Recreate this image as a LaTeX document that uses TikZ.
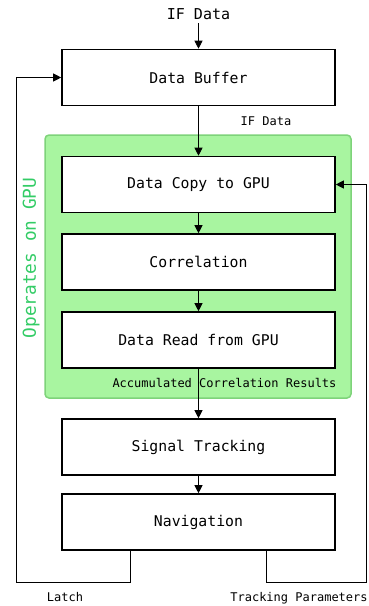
\documentclass[tikz,border=0pt]{standalone}
\usepackage{fontspec}
\setmonofont{DejaVu Sans Mono}
\usetikzlibrary{arrows.meta}

\definecolor{gpufill}{RGB}{168,245,160}
\definecolor{gpuline}{RGB}{126,211,122}
\definecolor{gputext}{RGB}{51,204,102}

\tikzset{
    stage/.style = {draw, line width = 1.6pt, fill = white,
        minimum width = 273pt, minimum height = 56pt,
        font = \ttfamily\fontsize{14.8}{17}\selectfont},
    small/.style = {font = \ttfamily\fontsize{12}{14}\selectfont},
    flow/.style = {-{Triangle[length = 8pt, width = 8pt]}, line width = 0.8pt},
    wire/.style = {line width = 0.8pt}
}

\begin{document}
\begin{tikzpicture}[x = 1pt, y = -1pt]
        \useasboundingbox (0,0) rectangle (368,606);

        % area computed on the GPU
        \draw [fill = gpufill, draw = gpuline, line width = 1.5pt, rounded corners = 4pt]
        (45,135) rectangle (351,398);
        \node [rotate = 90, text = gputext, font = \ttfamily\fontsize{17.8}{20}\selectfont]
        (gpu) at (31,258) {Operates on GPU};

        \node [font = \ttfamily\fontsize{15}{17}\selectfont] (ifin) at (198.5,14) {IF Data};

        \node [stage] (buf)   at (198.5,77.5) {Data Buffer};
        \node [stage] (copy)  at (198.5,184.5) {Data Copy to GPU};
        \node [stage] (corr)  at (198.5,262) {Correlation};
        \node [stage] (read)  at (198.5,340) {Data Read from GPU};
        \node [stage] (track) at (198.5,447) {Signal Tracking};
        \node [stage] (nav)   at (198.5,522) {Navigation};

        \node [small] (ifdata) at (266,121) {IF Data};
        \node [small, anchor = east] (acc) at (340,383) {Accumulated Correlation Results};
        \node [small] (latch) at (65,597) {Latch};
        \node [small] (param) at (299,598) {Tracking Parameters};

        \draw [flow] (ifin) -- (buf);
        \draw [flow] (buf) -- (copy);
        \draw [flow] (copy) -- (corr);
        \draw [flow] (corr) -- (read);
        \draw [flow] (read) -- (track);
        \draw [flow] (track) -- (nav);

        % feedback loops
        \coordinate (lt) at (130,582);
        \coordinate (lb) at (16,582);
        \coordinate (rt) at (266,582);
        \coordinate (rb) at (366.5,582);

        \draw [flow] (nav.south -| lt) -- (lt) -- (lb) |- (buf.west);
        \draw [flow] (nav.south -| rt) -- (rt) -- (rb) |- (copy.east);
    \end{tikzpicture}
\end{document}
